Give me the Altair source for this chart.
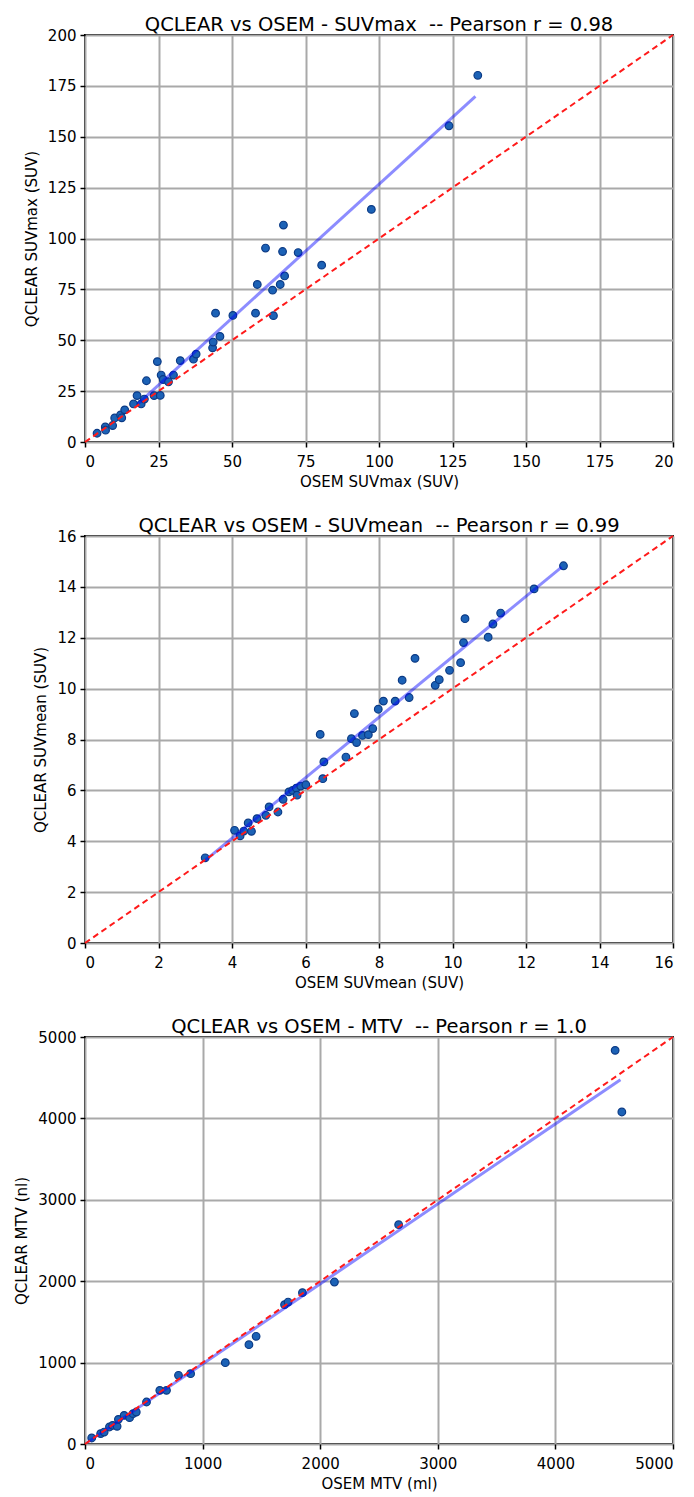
import altair as alt
import pandas as pd

FONT = "DejaVu Sans"

# ---------- Panel 1: SUVmax ----------
suvmax_osem = [4.1, 6.9, 7.0, 9.4, 10.1, 12.1, 12.5, 13.5, 16.5, 17.7, 19.1, 20.2, 20.9,
               23.5, 24.6, 25.6, 25.9, 26.6, 28.4, 30.1, 32.4, 36.9, 37.8, 43.4, 43.6,
               44.4, 45.9, 50.3, 58.0, 58.6, 61.4, 63.8, 64.1, 66.4, 67.2, 67.9, 67.5,
               72.5, 80.5, 97.4, 123.8, 133.6]
suvmax_qclear = [4.3, 7.4, 5.8, 8.1, 11.8, 13.3, 11.9, 15.8, 18.7, 22.8, 18.7, 21.1, 30.1,
                 22.8, 39.5, 22.9, 32.9, 30.7, 29.6, 32.9, 40.0, 40.7, 43.2, 46.3, 49.1,
                 63.3, 51.9, 62.2, 63.3, 77.4, 95.3, 74.6, 62.1, 77.4, 93.6, 81.6, 106.6,
                 93.1, 86.9, 114.3, 155.4, 180.2]
suvmax_fit_x = [17.9, 132.8]
suvmax_fit_y = [18.6, 169.8]
suvmax_ident = [0, 200]
suvmax_ticks = [0, 25, 50, 75, 100, 125, 150, 175, 200]

# ---------- Panel 2: SUVmean ----------
suvmean_osem = [3.27, 4.07, 4.22, 4.32, 4.44, 4.53, 4.68, 4.92, 5.01, 5.25, 5.39, 5.55,
                5.65, 5.75, 5.77, 5.87, 6.01, 6.40, 6.47, 6.50, 7.10, 7.25, 7.33, 7.39,
                7.55, 7.71, 7.83, 7.98, 8.12, 8.44, 8.63, 8.82, 8.98, 9.53, 9.64, 9.92,
                10.22, 10.30, 10.34, 10.97, 11.10, 11.31, 12.22, 13.02]
suvmean_qclear = [3.35, 4.43, 4.21, 4.40, 4.72, 4.39, 4.89, 5.02, 5.35, 5.15, 5.65, 5.94,
                  6.00, 6.09, 5.81, 6.17, 6.22, 8.20, 6.46, 7.12, 7.31, 8.03, 9.02, 7.88,
                  8.16, 8.19, 8.43, 9.19, 9.51, 9.51, 10.33, 9.65, 11.19, 10.13, 10.35, 10.72,
                  11.02, 11.81, 12.75, 12.02, 12.54, 12.97, 13.92, 14.83]
suvmean_fit_x = [3.27, 12.97]
suvmean_fit_y = [3.25, 14.78]
suvmean_ident = [0, 16]
suvmean_ticks = [0, 2, 4, 6, 8, 10, 12, 14, 16]

# ---------- Panel 3: MTV ----------
mtv_osem = [57, 133, 163, 208, 235, 273, 284, 333, 379, 409, 436, 523, 636, 693, 795,
            898, 1193, 1394, 1455, 1697, 1727, 1849, 2121, 2667, 4508, 4565]
mtv_qclear = [74, 127, 147, 209, 229, 217, 303, 352, 324, 373, 393, 516, 659, 659, 844,
              864, 999, 1220, 1323, 1712, 1744, 1859, 1990, 2694, 4836, 4079]
mtv_fit_x = [20, 4553]
mtv_fit_y = [20, 4476]
mtv_ident = [0, 5000]
mtv_ticks = [0, 1000, 2000, 3000, 4000, 5000]

W, H = 588, 407


def panel(xs, ys, fx, fy, ident, ticks, title, xtitle, ytitle, xlabel_expr=None):
    pts = pd.DataFrame({"x": xs, "y": ys})
    fit = pd.DataFrame({"x": fx, "y": fy})
    idl = pd.DataFrame({"x": ident, "y": ident})
    dom = [ident[0], ident[1]]
    xaxis_kw = dict(values=ticks, title=xtitle, grid=True, format="d", labelPadding=7,
                    titlePadding=5)
    if xlabel_expr:
        xaxis_kw["labelExpr"] = xlabel_expr
    xsc = alt.Scale(domain=dom, nice=False, zero=False)
    ysc = alt.Scale(domain=dom, nice=False, zero=False)
    xenc = alt.X("x:Q", scale=xsc, axis=alt.Axis(**xaxis_kw))
    yenc = alt.Y("y:Q", scale=ysc,
                 axis=alt.Axis(values=ticks, title=ytitle, grid=True, format="d"))

    p = alt.Chart(pts).mark_point(
        shape="circle", filled=True, size=58, fill="#1c62b6", stroke="#0b3a85",
        strokeWidth=1.2, opacity=1
    ).encode(x=xenc, y=yenc)
    bl = alt.Chart(fit).mark_line(color="#0000ff", opacity=0.45, strokeWidth=3).encode(
        x=alt.X("x:Q", scale=xsc), y=alt.Y("y:Q", scale=ysc))
    rl = alt.Chart(idl).mark_line(color="#ff1a1a", strokeDash=[6, 4], strokeWidth=2).encode(
        x=alt.X("x:Q", scale=xsc), y=alt.Y("y:Q", scale=ysc))
    return alt.layer(p, bl, rl).properties(
        width=W, height=H,
        title=alt.TitleParams(title, fontSize=19.5, font=FONT, fontWeight="normal",
                              color="#000000", offset=-7)
    )


NB = "\u00a0"
c1 = panel(suvmax_osem, suvmax_qclear, suvmax_fit_x, suvmax_fit_y, suvmax_ident, suvmax_ticks,
           "QCLEAR vs OSEM - SUVmax " + NB + "-- Pearson r = 0.98", "OSEM SUVmax (SUV)",
           "QCLEAR SUVmax (SUV)",
           xlabel_expr="datum.value == 200 ? '20' : datum.label")
c2 = panel(suvmean_osem, suvmean_qclear, suvmean_fit_x, suvmean_fit_y, suvmean_ident, suvmean_ticks,
           "QCLEAR vs OSEM - SUVmean " + NB + "-- Pearson r = 0.99", "OSEM SUVmean (SUV)",
           "QCLEAR SUVmean (SUV)")
c3 = panel(mtv_osem, mtv_qclear, mtv_fit_x, mtv_fit_y, mtv_ident, mtv_ticks,
           "QCLEAR vs OSEM - MTV " + NB + "-- Pearson r = 1.0", "OSEM MTV (ml)", "QCLEAR MTV (nl)")

chart = alt.vconcat(c1, c2, c3, spacing=24, background="#ffffff").configure_view(
    stroke="#000000", strokeWidth=2
).configure_axis(
    labelFont=FONT, titleFont=FONT, labelFontSize=15, titleFontSize=15,
    titleFontWeight="normal", labelColor="#000000", titleColor="#000000",
    domain=False, tickColor="#000000", tickWidth=1.5, tickSize=5, labelPadding=4,
    gridColor="#a9a9a9", gridWidth=2, gridOpacity=1, titlePadding=6
).configure_axisY(titlePadding=8)

chart.save("out.html", embed_options={"renderer": "svg", "actions": False})
